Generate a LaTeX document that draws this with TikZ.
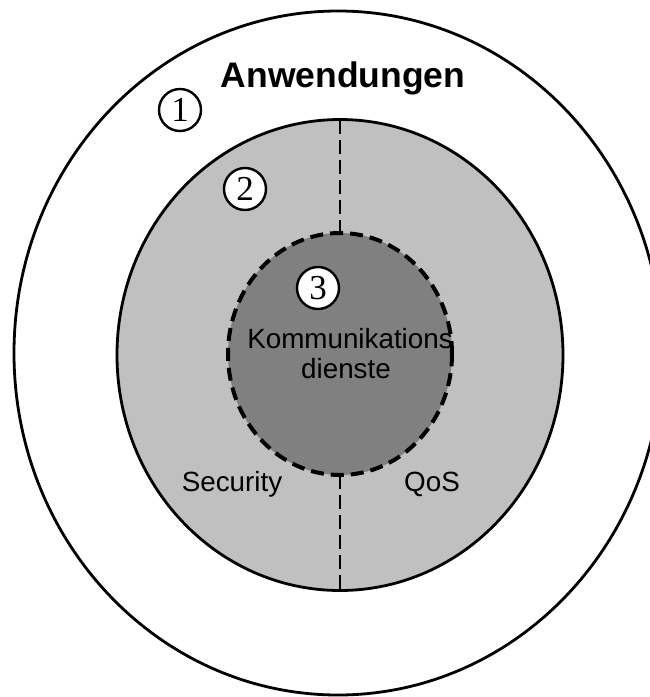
\documentclass[tikz,border=0pt]{standalone}
\usepackage{fontspec}
\setmainfont{Liberation Sans}
\newfontfamily\numfont{Liberation Serif}
\usetikzlibrary{shapes.geometric}

\tikzset{
  ring/.style={ellipse, inner sep=0pt, outer sep=0pt, line width=2.8pt},
  layerlabel/.style={anchor=base, inner sep=0pt, font=\fontsize{27.8}{30}\selectfont},
  tag/.style={circle, draw, fill=white, line width=2.4pt, minimum size=42pt,
    inner sep=0pt, font=\numfont\fontsize{35}{35}\selectfont},
  divider/.style={line width=2.8pt, dash pattern=on 14pt off 6pt}
}

\begin{document}
\begin{tikzpicture}[x=1pt, y=-1pt]
  \useasboundingbox (0,0) rectangle (650,697);
  \clip (0,0) rectangle (650,697);
  \fill[white] (0,0) rectangle (650,697);

  % three nested layers
  \node[ring, draw, fill=white, minimum width=648pt, minimum height=684pt]
    (outer) at (338,353) {};
  \node[ring, draw, fill={rgb,255:red,192;green,192;blue,192},
    minimum width=446pt, minimum height=471pt] (middle) at (340,355) {};
  \node[ring, fill={rgb,255:red,128;green,128;blue,128},
    minimum width=224pt, minimum height=242pt] (inner) at (340,354) {};

  % split of the middle layer
  \draw[divider] (middle.north) -- (inner.north);
  \draw[divider] (inner.south) -- (middle.south);

  % dashed border of the core
  \draw[line width=4pt, dash pattern=on 13pt off 7pt]
    (340,354) ellipse [x radius=112pt, y radius=121pt];

  % labels
  \node[anchor=base, inner sep=0pt, font=\bfseries\fontsize{35.5}{37}\selectfont]
    (apps) at (343,87) {Anwendungen};
  \node[layerlabel] (komm) at (350,348) {Kommunikations};
  \node[layerlabel] (dienste) at (346,378) {dienste};
  \node[layerlabel] (sec) at (232,491) {Security};
  \node[layerlabel] (qos) at (432,491) {QoS};

  % layer numbers
  \node[tag] (n1) at (180,110) {1};
  \node[tag] (n2) at (245,189) {2};
  \node[tag] (n3) at (318,288) {3};
\end{tikzpicture}
\end{document}
